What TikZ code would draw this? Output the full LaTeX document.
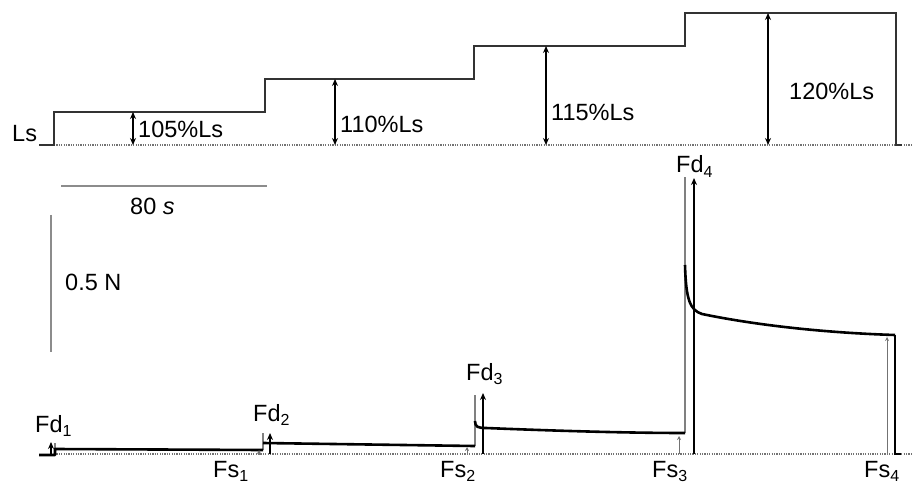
\documentclass[tikz,border=0pt]{standalone}
\usepackage{fontspec}
\setmainfont{Liberation Sans}
\usetikzlibrary{arrows.meta}
\newcommand\lowsub[1]{\raisebox{-0.35ex}{\fontsize{16}{16}\selectfont #1}}
\begin{document}
\begin{tikzpicture}[x=1pt,y=-1pt,
  lab/.style={font=\fontsize{23.5}{26}\selectfont, inner sep=0pt, anchor=base west},
  stepline/.style={line width=1.6pt, draw=black!80, line join=miter},
  baseline/.style={line width=1.3pt, draw=black!55, dash pattern=on 1.2pt off 1.2pt},
  dbl/.style={line width=1.3pt, {Stealth[length=7pt,width=6pt]}-{Stealth[length=7pt,width=6pt]}},
  upar/.style={line width=1.3pt, -{Stealth[length=7pt,width=6pt]}},
  smallar/.style={line width=1pt, draw=black!55, -{Stealth[length=4pt,width=4pt]}},
  spike/.style={line width=1.1pt, draw=black!50},
  trace/.style={line width=2.6pt, line join=round},
  scalebar/.style={line width=1.4pt, draw=black!45}]
\useasboundingbox (0,0) rectangle (912,486);

% ---------- top: length steps ----------
\draw[baseline] (54,145) -- (912,145);
\draw[stepline] (39,145) -- (54,145) -- (54,112) -- (265,112) -- (265,79) -- (474,79)
  -- (474,46) -- (685,46) -- (685,13) -- (896,13) -- (896,145) -- (902,145);

\coordinate (a1t) at (133,112); \coordinate (a1b) at (133,145);
\coordinate (a2t) at (335,79);  \coordinate (a2b) at (335,145);
\coordinate (a3t) at (546,46);  \coordinate (a3b) at (546,145);
\coordinate (a4t) at (768,13);  \coordinate (a4b) at (768,145);
\draw[dbl] (a1t) -- (a1b);
\draw[dbl] (a2t) -- (a2b);
\draw[dbl] (a3t) -- (a3b);
\draw[dbl] (a4t) -- (a4b);

\node[lab] (ls) at (12,142) {Ls};
\node[lab] (p105) at (138,138) {105\%Ls};
\node[lab] (p110) at (340,133) {110\%Ls};
\node[lab] (p115) at (551,121) {115\%Ls};
\node[lab] (p120) at (789,100) {120\%Ls};

% ---------- scale bars ----------
\coordinate (hb1) at (61,186); \coordinate (hb2) at (267,186);
\coordinate (vb1) at (51,215); \coordinate (vb2) at (51,352);
\draw[scalebar] (hb1) -- (hb2);
\draw[scalebar] (vb1) -- (vb2);
\node[lab] (sec) at (130,215) {80 \textit{s}};
\node[lab] (newton) at (65,290) {0.5 N};

% ---------- bottom: force trace ----------
\draw[baseline] (54,454) -- (912,454);

% spikes (grey)
\draw[spike] (55,449) -- (55,443);
\draw[spike] (263,450) -- (263,433);
\draw[spike] (475,446) -- (475,395);
\draw[spike] (685,433) -- (685,177);

% trace
\draw[trace] (39,455) -- (55,455) -- (55,449) -- (262,450) -- (263,450);
\draw[trace] (263,443) -- (474,446) -- (475,446);
\draw[trace] (475,421) .. controls (475,427) and (478,428) .. (486,428)
  .. controls (560,431) and (630,433) .. (685,433);
\draw[trace] (685,265) .. controls (686,300) and (690,310) .. (702,314)
  .. controls (760,326) and (830,333) .. (895,335);
\draw[line width=1.3pt] (895,335) -- (895,454) -- (901,454);

% Fd arrows
\coordinate (d1b) at (51,454);  \coordinate (d1t) at (51,442);
\coordinate (d2b) at (270,454); \coordinate (d2t) at (270,433);
\coordinate (d3b) at (483,454); \coordinate (d3t) at (483,393);
\coordinate (d4b) at (694,454); \coordinate (d4t) at (694,178);
\draw[upar] (d1b) -- (d1t);
\draw[upar] (d2b) -- (d2t);
\draw[upar] (d3b) -- (d3t);
\draw[upar] (d4b) -- (d4t);

% Fs arrows
\coordinate (s1b) at (259,455); \coordinate (s1t) at (259,450);
\coordinate (s2b) at (467,454); \coordinate (s2t) at (467,447);
\coordinate (s3b) at (679,454); \coordinate (s3t) at (679,436);
\coordinate (s4b) at (887,454); \coordinate (s4t) at (887,337);
\draw[smallar] (s1b) -- (s1t);
\draw[smallar] (s2b) -- (s2t);
\draw[smallar] (s3b) -- (s3t);
\draw[smallar] (s4b) -- (s4t);

% labels
\node[lab] (fd1) at (35,432) {Fd\lowsub{1}};
\node[lab] (fd2) at (253,421) {Fd\lowsub{2}};
\node[lab] (fd3) at (466,380) {Fd\lowsub{3}};
\node[lab] (fd4) at (676,173) {Fd\lowsub{4}};
\node[lab] (fs1) at (213,477) {Fs\lowsub{1}};
\node[lab] (fs2) at (440,477) {Fs\lowsub{2}};
\node[lab] (fs3) at (652,477) {Fs\lowsub{3}};
\node[lab] (fs4) at (864,477) {Fs\lowsub{4}};
\end{tikzpicture}
\end{document}
